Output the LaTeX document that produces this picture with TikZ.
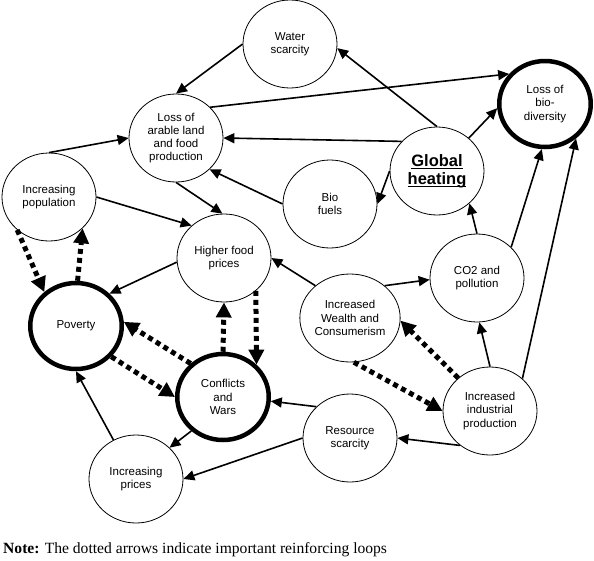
\documentclass[tikz,border=0pt]{standalone}
\usepackage{fontspec}
\setmainfont{Liberation Sans}
\newfontfamily\notefont{Liberation Serif}
\usetikzlibrary{shapes.geometric,arrows.meta}
\newcommand\myul[1]{\setbox0\hbox{#1}\rlap{\rule[-3pt]{\wd0}{1.6pt}}\box0}
\begin{document}
\begin{tikzpicture}[x=1pt,y=-1pt,
  bub/.style={ellipse,draw,line width=0.8pt,minimum width=94pt,minimum height=88pt,inner sep=0pt,align=center,font=\fontsize{11.5}{13.3}\selectfont},
  thickbub/.style={bub,line width=4.5pt,minimum width=91.5pt,minimum height=86pt},
  arr/.style={line width=1.6pt,-{Triangle[length=11pt,width=10pt]}},
  dotarr/.style={line width=5pt,dash pattern=on 5pt off 4pt,-{Triangle[length=15pt,width=15pt]}}]
\useasboundingbox (0,0) rectangle (594,560);
\node[bub] (water) at (290,44) {Water\\scarcity};
\node[bub] (arable) at (176,138) {Loss of\\arable land\\and food\\production};
\node[thickbub] (bio) at (545,104) {Loss of\\bio-\\diversity};
\node[bub,font=\bfseries\fontsize{16.5}{18}\selectfont] (gh) at (437,171) {\myul{Global}\\\myul{heating}};
\node[bub] (bf) at (330,204) {Bio\\fuels};
\node[bub] (pop) at (49,197) {Increasing\\population};
\node[bub] (hfp) at (224,258) {Higher food\\prices};
\node[thickbub] (pov) at (76,326) {Poverty};
\node[thickbub] (cw) at (223,397) {Conflicts\\and\\Wars};
\node[bub] (ip) at (136,479) {Increasing\\prices};
\node[bub] (co2) at (477,278) {CO2 and\\pollution};
\node[bub] (wealth) at (350,318) {Increased\\Wealth and\\Consumerism};
\node[bub] (ind) at (490,411) {Increased\\industrial\\production};
\node[bub] (res) at (350,438) {Resource\\scarcity};
\node[anchor=base west,inner sep=0pt,font=\notefont\fontsize{15.6}{17}\selectfont] (note) at (3,553) {\textbf{Note:} The dotted arrows indicate important reinforcing loops};

\draw[arr] (water.west) -- (arable.90);
\draw[arr] (gh.north) -- (water.355);
\draw[arr] (arable.42) -- (bio.140);
\draw[arr] (gh.140) -- (arable.0);
\draw[arr] (bf.west) -- (arable.317);
\draw[arr] (gh.west) -- (bf.east);
\draw[arr] (gh.46) -- (bio.185);
\draw[arr] (co2.north) -- (gh.315);
\draw[arr] (co2.42) -- (bio.266);
\draw[arr] (ind.45) -- (bio.312);
\draw[arr] (ind.north) -- (co2.273);
\draw[arr] (wealth.43) -- (co2.182);
\draw[arr] (wealth.137) -- (hfp.0);
\draw[arr] (pop.north) -- (arable.west);
\draw[arr] (pop.east) -- (hfp.135);
\draw[arr] (arable.south) -- (hfp.92);
\draw[arr] (hfp.185) -- (pov.44);
\draw[arr] (res.137) -- (cw.355);
\draw[arr] (res.west) -- (ip.east);
\draw[arr] (ind.229) -- (res.east);
\draw[arr] (cw.227) -- (ip.43);
\draw[arr] (ip.120) -- (pov.270);

\draw[dotarr] (pop.226) -- (pov.133);
\draw[dotarr] (pov.88) -- (pop.317);
\draw[dotarr] (cw.134) -- (pov.5);
\draw[dotarr] (pov.319) -- (cw.180);
\draw[dotarr] (cw.north) -- (hfp.south);
\draw[dotarr] (hfp.314) -- (cw.44);
\draw[dotarr] (ind.134) -- (wealth.357);
\draw[dotarr] (wealth.275) -- (ind.180);
\end{tikzpicture}
\end{document}
